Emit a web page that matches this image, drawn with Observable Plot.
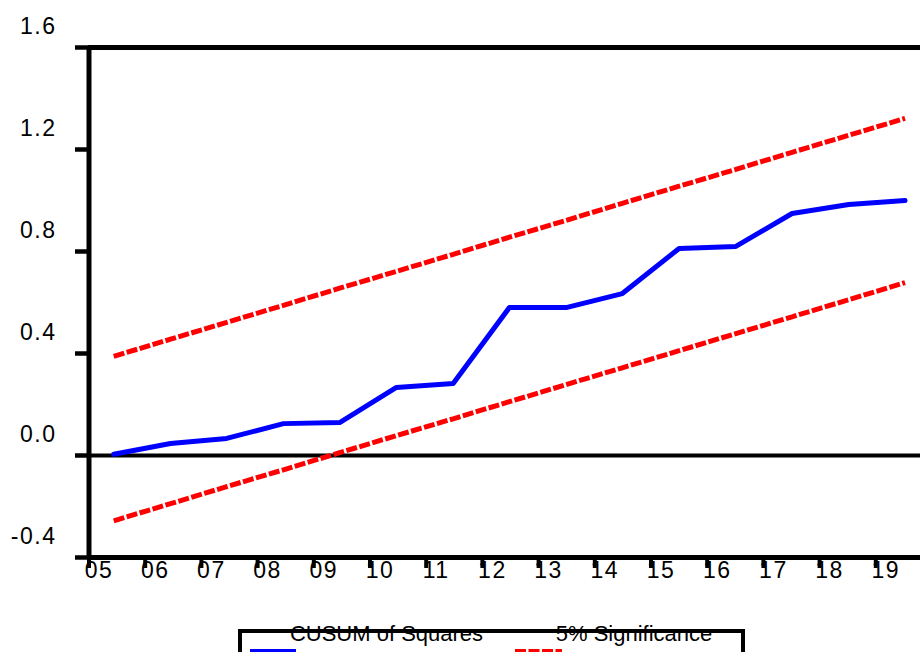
<!DOCTYPE html>
<html><head><meta charset="utf-8">
<script src="https://cdn.jsdelivr.net/npm/d3@7"></script>
<script src="https://cdn.jsdelivr.net/npm/@observablehq/plot@0.6"></script>
<style>
body{margin:0;background:#fff;}
#chart svg{display:block;}
g[aria-label="x-axis tick label"] text, g[aria-label="y-axis tick label"] text {letter-spacing:1.5px;}
</style></head><body><div id="chart"></div>
<script>
// observation positions (years, fractional)
const period = [2005.44, 2006.45, 2007.45, 2008.46, 2009.46, 2010.47, 2011.48, 2012.48, 2013.49, 2014.49, 2015.50, 2016.51, 2017.51, 2018.52, 2019.52];
// CUSUM of Squares
const cusumSq = [0.005, 0.047, 0.067, 0.125, 0.129, 0.267, 0.282, 0.580, 0.580, 0.635, 0.812, 0.820, 0.949, 0.984, 1.000];
// 5% significance bounds
const upper = [0.389, 0.456, 0.522, 0.589, 0.656, 0.722, 0.789, 0.856, 0.922, 0.989, 1.056, 1.122, 1.189, 1.256, 1.322];
const lower = [-0.256, -0.189, -0.122, -0.056, 0.011, 0.078, 0.144, 0.211, 0.278, 0.344, 0.411, 0.478, 0.544, 0.611, 0.678];
const yTicks = [-0.4, 0, 0.4, 0.8, 1.2, 1.6];
const xTicks = [2005, 2006, 2007, 2008, 2009, 2010, 2011, 2012, 2013, 2014, 2015, 2016, 2017, 2018, 2019];
const xTickLabels = ["05", "06", "07", "08", "09", "10", "11", "12", "13", "14", "15", "16", "17", "18", "19"];
const seriesNames = ["CUSUM of Squares", "5% Significance"];

const rows = period.map((p, i) => ({p, cusum: cusumSq[i], upper: upper[i], lower: lower[i]}));
const xFmt = d => xTickLabels[xTicks.indexOf(d)];
const redStyle = {stroke: "#ff0000", strokeWidth: 5, strokeDasharray: "11,2.5", strokeLinecap: "butt", strokeLinejoin: "miter"};

const plot = Plot.plot({
  width: 920, height: 652,
  marginLeft: 88, marginRight: 0, marginTop: 47, marginBottom: 95,
  style: {fontFamily: "'Liberation Sans', Arial, sans-serif", fontSize: "23px", color: "#000", background: "#fff"},
  x: {domain: [2005, 2020], range: [88.5, 931.5], label: null},
  y: {domain: [-0.4, 1.6], label: null},
  marks: [
    Plot.ruleY([0], {stroke: "#000", strokeWidth: 4}),
    Plot.ruleY([-0.4, 1.6], {stroke: "#000", strokeWidth: 5}),
    Plot.ruleX([2005], {stroke: "#000", strokeWidth: 5}),
    Plot.line(rows, {x: "p", y: "upper", ...redStyle}),
    Plot.line(rows, {x: "p", y: "lower", ...redStyle}),
    Plot.line(rows, {x: "p", y: "cusum", stroke: "#0000ff", strokeWidth: 5}),
    // y ticks
    Plot.axisY({ticks: yTicks, tickSize: 13, strokeWidth: 4.5, fill: "none", label: null}),
    // y labels
    Plot.axisY({ticks: yTicks, tickFormat: d => d.toFixed(1), tickSize: 0, tickPadding: 32, dy: -21, fontSize: 23, fill: "#000", label: null}),
    // x ticks
    Plot.axisX({ticks: xTicks, tickSize: 11, strokeWidth: 4, fill: "none", label: null}),
    // x labels
    Plot.axisX({ticks: xTicks, tickFormat: xFmt, tickSize: 0, tickPadding: 4, dx: 10, fontSize: 23, fill: "#000", label: null})
  ]
});
document.getElementById("chart").appendChild(plot);

// legend
const svg = d3.select(plot);
const lg = svg.append("g").attr("aria-label", "legend");
lg.append("rect").attr("x", 240).attr("y", 631).attr("width", 503).attr("height", 60)
  .attr("fill", "none").attr("stroke", "#000").attr("stroke-width", 4);
lg.append("line").attr("x1", 250).attr("x2", 296).attr("y1", 651.5).attr("y2", 651.5)
  .attr("stroke", "#0000ff").attr("stroke-width", 5);
lg.append("line").attr("x1", 515).attr("x2", 562).attr("y1", 651.5).attr("y2", 651.5)
  .attr("stroke", "#ff0000").attr("stroke-width", 5).attr("stroke-dasharray", "11,2.5");
lg.append("text").attr("x", 386.5).attr("y", 641).attr("text-anchor", "middle")
  .attr("font-size", 22).attr("fill", "#000").text(seriesNames[0]);
lg.append("text").attr("x", 634).attr("y", 641).attr("text-anchor", "middle")
  .attr("font-size", 22).attr("fill", "#000").text(seriesNames[1]);
</script></body></html>
